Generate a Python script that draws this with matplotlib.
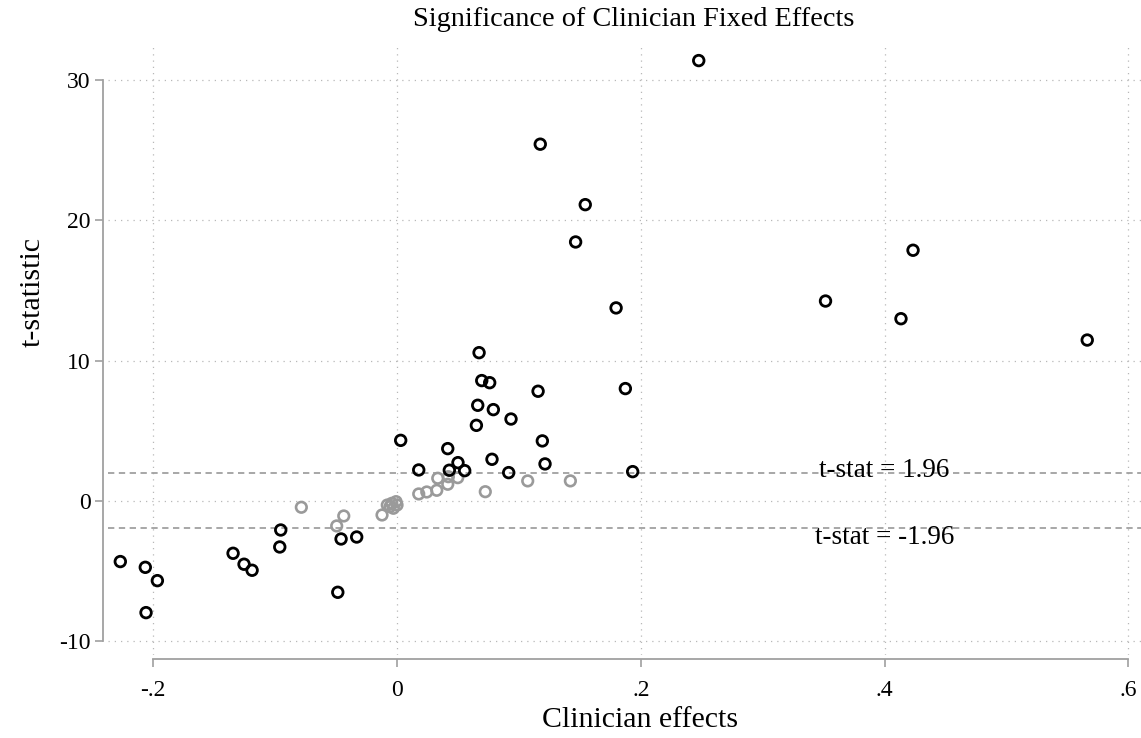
import numpy as np
import matplotlib
matplotlib.use("Agg")
import matplotlib.pyplot as plt

plt.rcParams['font.family'] = ['Liberation Serif', 'DejaVu Serif']

# --- data ---
# clinicians whose effect is significant (|t| > 1.96)
sig_x = [0.2475, 0.1175, 0.1544, 0.1465, 0.4233, 0.3515, 0.1797, 0.4134, 0.5662,
         0.0673, 0.0695, 0.0760, 0.1157, 0.1873, 0.0662, 0.0790, 0.0935, 0.0651,
         0.0030, 0.1192, 0.0416, 0.0779, 0.0500, 0.1214, 0.0178, 0.0429, 0.0555,
         0.1933, 0.0916,
         -0.0954, -0.0459, -0.0331, -0.0962, -0.1345, -0.1255, -0.1189, -0.2270,
         -0.2065, -0.1966, -0.2059, -0.0486]
sig_t = [31.39, 25.43, 21.12, 18.46, 17.87, 14.25, 13.76, 12.99, 11.47,
         10.57, 8.58, 8.43, 7.82, 8.01, 6.82, 6.51, 5.84, 5.39,
         4.32, 4.28, 3.73, 2.97, 2.73, 2.64, 2.21, 2.19, 2.16,
         2.09, 2.02,
         -2.07, -2.71, -2.57, -3.28, -3.73, -4.51, -4.94, -4.32,
         -4.73, -5.68, -7.96, -6.51]

# not significant
ns_x = [0.1422, 0.1072, 0.0724, 0.0498, 0.0421, 0.0334, 0.0416, 0.0326, 0.0244,
        0.0178, -0.0008, 0.0000, -0.0043, -0.0080, -0.0057, -0.0030, -0.0123,
        -0.0437, -0.0495, -0.0785]
ns_t = [1.43, 1.43, 0.66, 1.66, 1.73, 1.62, 1.19, 0.76, 0.64,
        0.50, -0.05, -0.29, -0.17, -0.29, -0.40, -0.52, -1.00,
        -1.07, -1.78, -0.45]

x_ticks = [-0.2, 0, 0.2, 0.4, 0.6]
x_labels = ['-.2', '0', '.2', '.4', '.6']
y_ticks = [-10, 0, 10, 20, 30]
y_labels = ['-10', '0', '10', '20', '30']
crit = 1.96

# --- figure ---
W, H = 1141, 738
fig = plt.figure(figsize=(W / 100, H / 100), dpi=100)
# axes box in pixels: left 108, right 1141, top 45, bottom 655
ax = fig.add_axes([108 / W, 1 - 655 / H, (1141 - 108) / W, (655 - 45) / H])

gridc = '#b8b8b8'
spinec = '#a0a0a0'

ax.set_xlim(-0.2371, 0.6103)
ax.set_ylim(-10.98, 32.5)

ax.set_xticks(x_ticks)
ax.set_xticklabels(x_labels)
ax.set_yticks(y_ticks)
ax.set_yticklabels(y_labels)
ax.grid(True, linestyle=(0, (1, 4)), color=gridc, linewidth=0.9)
ax.set_axisbelow(True)

for side in ['top', 'right']:
    ax.spines[side].set_visible(False)
ax.spines['left'].set_position(('outward', 3.6))
ax.spines['bottom'].set_position(('outward', 3))
ax.spines['left'].set_bounds(-10, 30)
ax.spines['bottom'].set_bounds(-0.2, 0.6)
for side in ['left', 'bottom']:
    ax.spines[side].set_color(spinec)
    ax.spines[side].set_linewidth(1.3)
ax.tick_params(axis='both', colors=spinec, labelcolor='black', labelsize=17,
               length=6, width=1.2)
ax.tick_params(axis='x', pad=9)
ax.tick_params(axis='y', pad=3)

# critical value lines
for v in (crit, -crit):
    ax.axhline(v, color='#a0a0a0', linestyle=(0, (3.5, 2.5)), linewidth=1.3, zorder=1)

ax.scatter(ns_x, ns_t, s=58, facecolors='none', edgecolors='#9a9a9a',
           linewidths=1.9, zorder=3)
ax.scatter(sig_x, sig_t, s=58, facecolors='none', edgecolors='black',
           linewidths=2.0, zorder=4)

ax.text(0.4, 2.14, 't-stat = 1.96', ha='center', va='center', fontsize=19.5)
ax.text(0.4, -2.6, 't-stat = -1.96', ha='center', va='center', fontsize=19.5)

fig.text(634 / W, 1 - 19 / H, 'Significance of Clinician Fixed Effects',
         ha='center', va='center', fontsize=20.3)
fig.text(640 / W, 1 - 720 / H, 'Clinician effects', ha='center', va='center',
         fontsize=21.5)
fig.text(33 / W, 1 - 292 / H, 't-statistic', ha='center', va='center',
         rotation=90, fontsize=21.5)

fig.savefig('out.png', dpi=100)
